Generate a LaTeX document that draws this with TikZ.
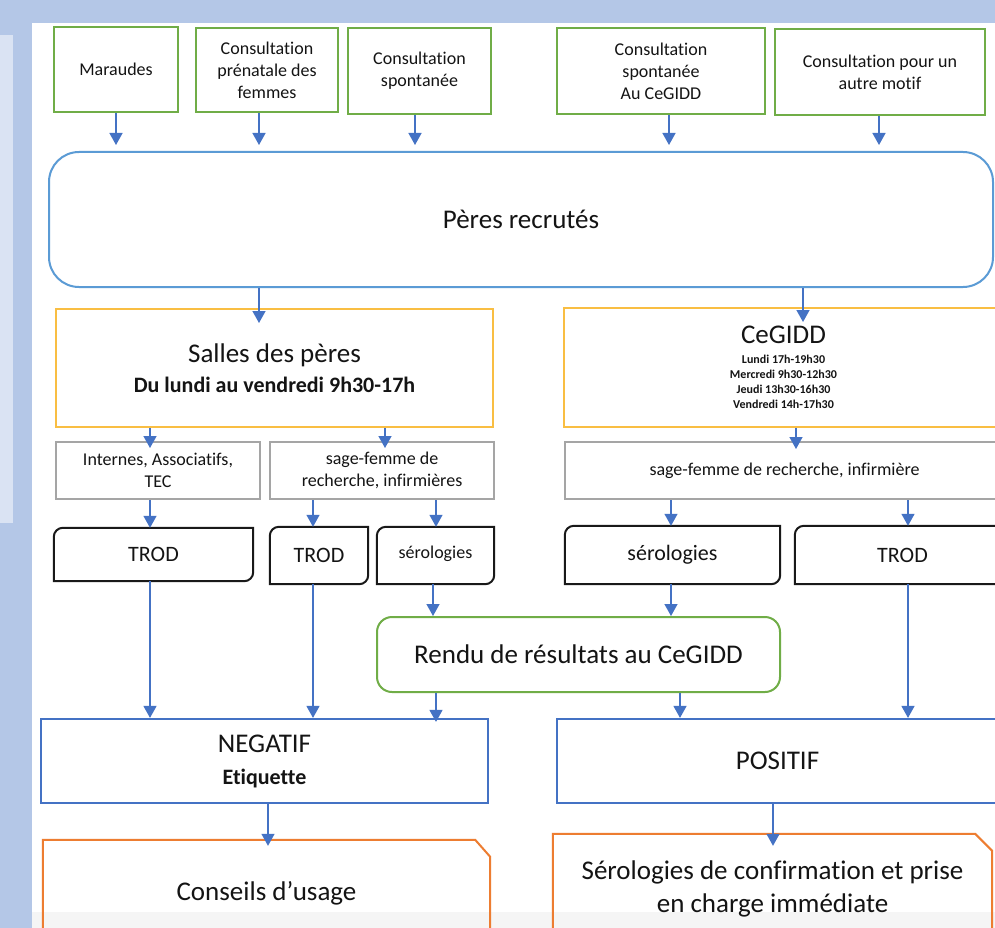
\documentclass[tikz,border=0pt]{standalone}
\usepackage{fontspec}
\setmainfont{Carlito}[RawFeature={-liga;-rlig;-clig;-dlig;-calt}]
\usetikzlibrary{arrows.meta,calc}
\definecolor{bgblue}{HTML}{B4C7E7}
\definecolor{lightpanel}{HTML}{DAE3F3}
\definecolor{bandgray}{HTML}{F5F5F5}
\definecolor{cgreen}{HTML}{70AD47}
\definecolor{pblue}{HTML}{5B9BD5}
\definecolor{cyellow}{HTML}{F9BE43}
\definecolor{cgray}{HTML}{A5A5A5}
\definecolor{nblue}{HTML}{4472C4}
\definecolor{corange}{HTML}{ED7D31}
\definecolor{arrblue}{HTML}{4472C4}
\definecolor{txt}{HTML}{141414}
\newcommand\fsz[2]{\fontsize{#1}{#2}\selectfont}
\begin{document}
\begin{tikzpicture}[x=1pt,y=-1pt,
  every node/.style={text=txt, inner sep=0pt, align=center},
  gbox/.style={draw=cgreen, line width=2.2pt, font=\fsz{18}{22}},
  ybox/.style={draw=cyellow, line width=2pt},
  gybox/.style={draw=cgray, line width=2pt, font=\fsz{18}{22}},
  bkbox/.style={draw=none, font=\fsz{22}{27}},
  bkline/.style={draw=black!90, line width=2pt},
  nbox/.style={draw=nblue, line width=2.2pt},
  obox/.style={draw=none, font=\fsz{27}{33}},
  oline/.style={draw=corange, line width=2pt},
  arr/.style={draw=arrblue, line width=1.4pt, -{Triangle[width=13pt,length=12pt]}}
]
\path[use as bounding box] (0,0) rectangle (995,928);
\clip (0,0) rectangle (995,928);
\fill[bgblue] (0,0) rectangle (995,928);
\fill[white] (32,23) rectangle (995,928);
\fill[lightpanel] (0,35) rectangle (13,523);
\fill[bandgray] (32,912) rectangle (995,928);

% top sources
\node[gbox, minimum width=124pt, minimum height=85pt] (m1) at (116,69.5) {Maraudes};
\node[gbox, minimum width=142pt, minimum height=84pt] (m2) at (267,70) {Consultation\\prénatale des\\femmes};
\node[gbox, minimum width=143pt, minimum height=86pt] (m3) at (419.5,71) {Consultation\\spontanée};
\node[gbox, minimum width=208pt, minimum height=86pt] (m4) at (661,71) {Consultation\\spontanée\\Au CeGIDD};
\node[gbox, minimum width=210pt, minimum height=86pt] (m5) at (880,72) {Consultation pour un\\autre motif};

% peres
\node[draw=pblue, line width=2pt, rounded corners=30pt, minimum width=944pt, minimum height=135pt, font=\fsz{27}{33}] (peres) at (521,219.5) {Pères recrutés};

% places
\node[ybox, minimum width=437pt, minimum height=118pt, font=\fsz{22}{27}\bfseries] (salles) at (274.5,368) {{\mdseries\fsz{27}{31}Salles des pères}\\[3pt]Du lundi au vendredi 9h30-17h};
\node[ybox, minimum width=439pt, minimum height=119pt, font=\fsz{12}{15}\bfseries] (cegidd) at (783.5,367.5) {{\mdseries\fsz{27}{30}CeGIDD}\\[5pt]Lundi 17h-19h30\\Mercredi 9h30-12h30\\Jeudi 13h30-16h30\\Vendredi 14h-17h30};

% staff
\node[gybox, minimum width=204pt, minimum height=57pt] (internes) at (158,470.5) {Internes, Associatifs,\\TEC};
\node[gybox, minimum width=224pt, minimum height=57pt] (sage1) at (382,470.5) {sage-femme de\\recherche, infirmières};
\node[gybox, minimum width=439pt, minimum height=57pt] (sage2) at (784.5,470.5) {sage-femme de recherche, infirmière};

% tests
\node[bkbox, minimum width=199pt, minimum height=53pt] (trod1) at (153.5,554.5) {TROD};
\node[bkbox, minimum width=98pt, minimum height=57pt] (trod2) at (319,555.5) {TROD};
\node[bkbox, minimum width=117pt, minimum height=57pt, font=\fsz{18}{22}] (sero1) at (435.5,555.5) {\raisebox{7pt}{sérologies}};
\node[bkbox, minimum width=215pt, minimum height=58pt] (sero2) at (672.5,555) {sérologies};
\node[bkbox, minimum width=215pt, minimum height=58pt] (trod3) at (902.5,555) {TROD};
\foreach \b in {trod1,trod2,sero1,sero2,trod3}{
  \draw[bkline] (\b.south west) -- ([yshift=-9pt]\b.north west) arc[start angle=180,end angle=90,radius=9pt] -- (\b.north east) -- ([yshift=9pt]\b.south east) arc[start angle=0,end angle=-90,radius=9pt] -- cycle;
}

% rendu
\node[draw=cgreen, line width=2pt, rounded corners=15pt, minimum width=403pt, minimum height=75pt, font=\fsz{27}{33}] (rendu) at (578.5,654.5) {Rendu de résultats au CeGIDD};

% results
\node[nbox, minimum width=447pt, minimum height=84pt, font=\fsz{22}{27}\bfseries] (neg) at (264.5,761) {{\mdseries\fsz{27}{30}NEGATIF}\\[5pt]Etiquette};
\node[nbox, minimum width=441pt, minimum height=84pt, font=\fsz{27}{33}] (pos) at (777.5,761) {POSITIF};

% bottom
\node[obox, minimum width=447pt, minimum height=106pt] (cons) at (266.5,893) {Conseils d’usage};
\node[obox, minimum width=439pt, minimum height=109pt] (sero3) at (772.5,888.5) {Sérologies de confirmation et prise\\en charge immédiate};
\draw[oline] (cons.south west) -- (cons.north west) -- ([xshift=-15pt]cons.north east) -- ([yshift=-17pt]cons.north east) -- (cons.south east) -- cycle;
\draw[oline] (sero3.south west) -- (sero3.north west) -- ([xshift=-17pt]sero3.north east) -- ([yshift=-17pt]sero3.north east) -- (sero3.south east) -- cycle;

% arrow x positions
\foreach \v in {116,259,415,669,879,803,150,385,796,313,436,433,671,908,680,268,773}{
  \coordinate (a\v) at (\v,0);
}
\newcommand\arrx[4]{\draw[arr,shorten >=#4] (#1.south -| a#3) -- (#2.north -| a#3);}
\arrx{m1}{peres}{116}{6pt}
\arrx{m2}{peres}{259}{6pt}
\arrx{m3}{peres}{415}{6pt}
\arrx{m4}{peres}{669}{6pt}
\arrx{m5}{peres}{879}{6pt}
\arrx{peres}{salles}{259}{-15pt}
\arrx{peres}{cegidd}{803}{-15pt}
\arrx{salles}{internes}{150}{-7pt}
\arrx{salles}{sage1}{385}{-7pt}
\arrx{cegidd}{sage2}{796}{-8pt}
\arrx{internes}{trod1}{150}{0pt}
\arrx{sage1}{trod2}{313}{0pt}
\arrx{sage1}{sero1}{436}{0pt}
\arrx{sage2}{sero2}{671}{0pt}
\arrx{sage2}{trod3}{908}{0pt}
\arrx{sero1}{rendu}{433}{0pt}
\arrx{sero2}{rendu}{671}{0pt}
\arrx{trod1}{neg}{150}{0pt}
\arrx{trod2}{neg}{313}{0pt}
\arrx{rendu}{neg}{436}{-4pt}
\arrx{rendu}{pos}{680}{0pt}
\arrx{trod3}{pos}{908}{0pt}
\arrx{neg}{cons}{268}{-6pt}
\arrx{pos}{sero3}{773}{-12pt}
\end{tikzpicture}
\end{document}
